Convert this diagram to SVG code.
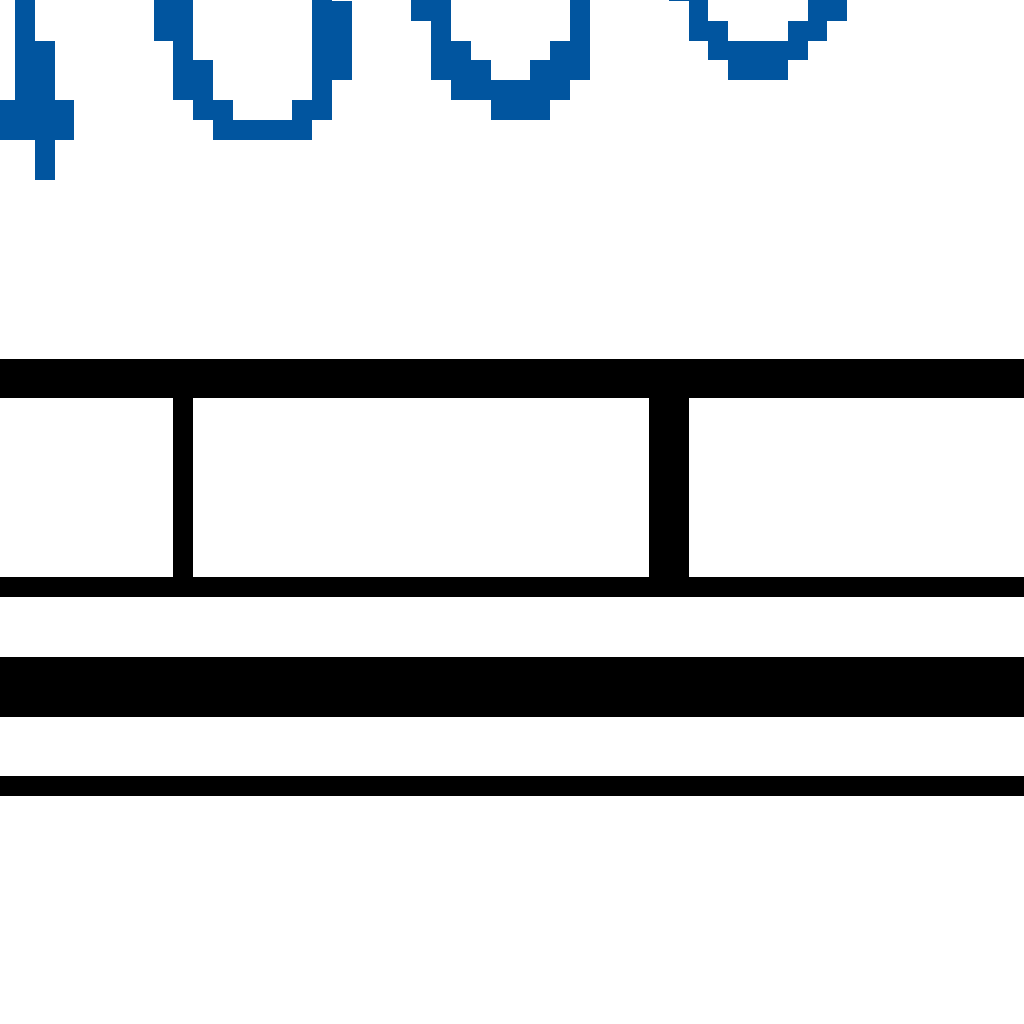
<svg xmlns="http://www.w3.org/2000/svg" width="1024" height="1024" viewBox="0 0 1024 1024">
<style>
.b{fill:#01559f}
.k{fill:#000}
</style>
<rect width="1024" height="1024" fill="#fff"/>
<g id="glyph1" class="b">
<rect x="15" y="0" width="20" height="140"/>
<rect x="35" y="41" width="20" height="139"/>
<rect x="0" y="100" width="74" height="40"/>
</g>
<g id="glyph2" class="b">
<rect x="154" y="0" width="39" height="41"/>
<rect x="173" y="41" width="20" height="59"/>
<rect x="193" y="60" width="20" height="40"/>
<rect x="193" y="100" width="40" height="20"/>
<rect x="213" y="120" width="99" height="20"/>
<rect x="292" y="100" width="40" height="20"/>
<rect x="312" y="0" width="20" height="100"/>
<rect x="332" y="1" width="20" height="79"/>
</g>
<g id="glyph3" class="b">
<rect x="411" y="0" width="40" height="21"/>
<rect x="431" y="21" width="20" height="59"/>
<rect x="451" y="41" width="20" height="40"/>
<rect x="451" y="60" width="40" height="40"/>
<rect x="451" y="80" width="119" height="20"/>
<rect x="491" y="100" width="59" height="20"/>
<rect x="530" y="60" width="40" height="40"/>
<rect x="550" y="41" width="40" height="39"/>
<rect x="570" y="0" width="20" height="80"/>
</g>
<g id="glyph4" class="b">
<rect x="669" y="0" width="20" height="1"/>
<rect x="689" y="0" width="19" height="41"/>
<rect x="708" y="21" width="20" height="39"/>
<rect x="708" y="41" width="100" height="19"/>
<rect x="728" y="60" width="60" height="20"/>
<rect x="788" y="21" width="39" height="20"/>
<rect x="808" y="0" width="39" height="21"/>
</g>
<g id="frame" class="k">
<rect x="0" y="359" width="1024" height="39"/>
<rect x="173" y="398" width="20" height="179"/>
<rect x="649" y="398" width="40" height="179"/>
<rect x="0" y="577" width="1024" height="20"/>
<rect x="0" y="657" width="1024" height="60"/>
<rect x="0" y="776" width="1024" height="20"/>
</g>
</svg>
